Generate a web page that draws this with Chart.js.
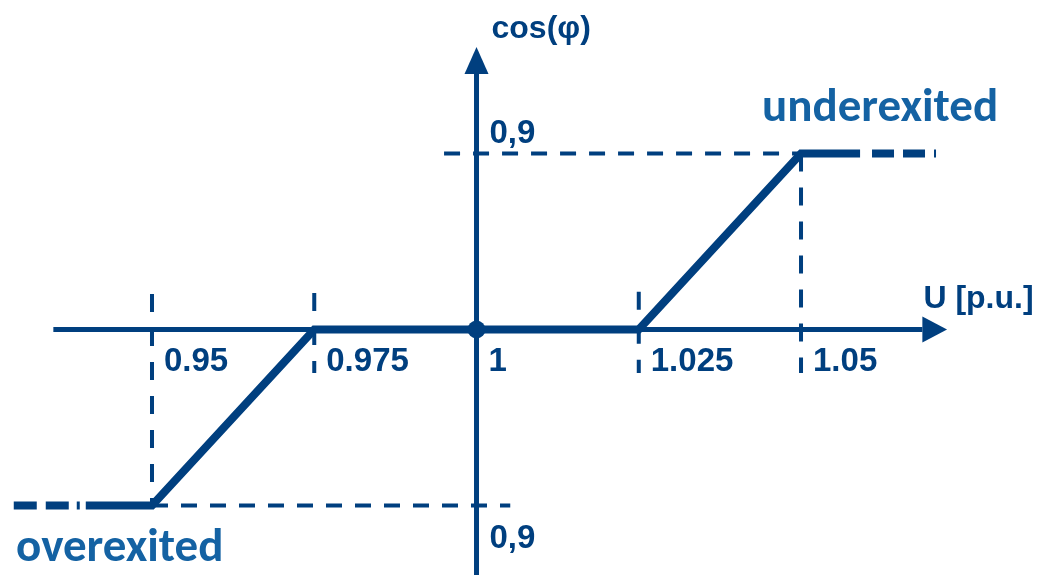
<!DOCTYPE html>
<html lang="en">
<head>
    <meta charset="UTF-8" />
    <title>cos(φ)(U) characteristic</title>
    <script src="https://cdn.jsdelivr.net/npm/chart.js"></script>
    <style>
        body { margin: 0; background: #fff; }
        .wrap { width: 1037px; height: 575px; position: relative; }
    </style>
</head>
<body>
    <div class="wrap"><canvas id="myChart"></canvas></div>

    <script>
        // characteristic cos(phi) = f(U); y is the signed distance from cos(phi)=1
        // (+ underexited, - overexited)
        const curveU   = [0.9398, 0.95, 0.975, 1.025, 1.05, 1.0591];
        const curveCos = [-0.1, -0.1, 0, 0, 0.1, 0.1];
        const leftExtU   = [0.9287, 0.9398];
        const leftExtCos = [-0.1, -0.1];
        const rightExtU   = [1.0708, 1.0591];
        const rightExtCos = [0.1, 0.1];

        // tick positions and labels
        const uTicks  = [0.95, 0.975, 1, 1.025, 1.05];
        const uLabels = ["0.95", "0.975", "1", "1.025", "1.05"];
        const cosTicks  = [0.1, -0.1];
        const cosLabels = ["0,9", "0,9"];

        // axis extents
        const uAxis   = [0.9348, 1.0687, 1.0725];   // start, arrow base, arrow tip
        const cosAxis = [-0.14, 0.1452, 0.1605];

        const blue = "#003f7f";
        const textBlue = "#1462a3";

        function seg(xs, ys) {
            return xs.map((x, i) => ({ x: x, y: ys[i] }));
        }

        const guideH = { borderColor: blue, borderWidth: 4, borderDash: [16, 13], pointRadius: 0, showLine: true };
        const guideV = { borderColor: blue, borderWidth: 4, borderDash: [18, 16], pointRadius: 0, showLine: true };

        const datasets = [
            {
                data: seg(curveU, curveCos),
                borderColor: blue, borderWidth: 8, borderJoinStyle: "miter",
                pointRadius: 0, showLine: true, order: 0,
            },
            {
                data: seg(leftExtU, leftExtCos),
                borderColor: blue, borderWidth: 8, borderDash: [23, 9, 23, 8, 3, 6],
                pointRadius: 0, showLine: true, order: 0,
            },
            {
                data: seg(rightExtU, rightExtCos),
                borderColor: blue, borderWidth: 8, borderDash: [2, 9, 22, 9, 22, 12],
                pointRadius: 0, showLine: true, order: 0,
            },
            {
                data: [{ x: 1, y: 0 }],
                pointRadius: 9, pointBackgroundColor: blue, pointBorderWidth: 0, order: 0,
            },
            // axes
            { data: seg([uAxis[0], uAxis[1]], [0, 0]), borderColor: blue, borderWidth: 5, pointRadius: 0, showLine: true, order: 2 },
            { data: seg([1, 1], [cosAxis[0], cosAxis[1]]), borderColor: blue, borderWidth: 5, pointRadius: 0, showLine: true, order: 2 },
            // dashed guides
            Object.assign({ data: seg([0.95, 1.0052], [-0.1, -0.1]), order: 3 }, guideH),
            Object.assign({ data: seg([0.995, 1.05], [0.1, 0.1]), order: 3 }, guideH),
            Object.assign({ data: seg([0.95, 0.95], [0.0202, -0.102]), order: 3 }, guideV),
            Object.assign({ data: seg([0.975, 0.975], [0.0208, -0.0247]), order: 3 }, guideV),
            Object.assign({ data: seg([1.025, 1.025], [0.0215, -0.0247]), order: 3 }, guideV),
            Object.assign({ data: seg([1.05, 1.05], [0.1, -0.0247]), order: 3 }, guideV),
        ];

        const labelsPlugin = {
            id: "labels",
            afterDatasetsDraw(chart) {
                const ctx = chart.ctx;
                const xs = chart.scales.x;
                const ys = chart.scales.y;
                const x0 = xs.getPixelForValue(1);
                const y0 = ys.getPixelForValue(0);

                ctx.save();
                ctx.fillStyle = blue;
                // arrow heads
                const ax = xs.getPixelForValue(uAxis[1]);
                const axTip = xs.getPixelForValue(uAxis[2]);
                ctx.beginPath();
                ctx.moveTo(ax, y0 - 13);
                ctx.lineTo(axTip, y0);
                ctx.lineTo(ax, y0 + 13);
                ctx.closePath();
                ctx.fill();

                const ay = ys.getPixelForValue(cosAxis[1]);
                const ayTip = ys.getPixelForValue(cosAxis[2]);
                ctx.beginPath();
                ctx.moveTo(x0 - 12, ay);
                ctx.lineTo(x0, ayTip);
                ctx.lineTo(x0 + 12, ay);
                ctx.closePath();
                ctx.fill();

                // tick labels
                ctx.font = 'bold 33px "Liberation Sans", Arial, sans-serif';
                ctx.textBaseline = "alphabetic";
                ctx.textAlign = "left";
                uTicks.forEach((u, i) => {
                    ctx.fillText(uLabels[i], xs.getPixelForValue(u) + 12, y0 + 41);
                });
                cosTicks.forEach((c, i) => {
                    const py = ys.getPixelForValue(c);
                    ctx.fillText(cosLabels[i], x0 + 13, c > 0 ? py - 11 : py + 43);
                });

                // axis titles
                ctx.font = 'bold 32px "Liberation Sans", Arial, sans-serif';
                ctx.fillText("cos(φ)", x0 + 15, ayTip - 9);
                ctx.fillText("U [p.u.]", ax + 1, y0 - 22);

                // regions
                ctx.fillStyle = textBlue;
                ctx.font = 'bold 47px Carlito, Lato, "Open Sans", sans-serif';
                ctx.fillText("underexited", xs.getPixelForValue(1.05) - 39, ys.getPixelForValue(0.1) - 33);
                ctx.fillText("overexited", xs.getPixelForValue(0.95) - 136, ys.getPixelForValue(-0.1) + 56);
                ctx.restore();
            },
        };

        const ctx = document.getElementById("myChart").getContext("2d");
        new Chart(ctx, {
            type: "scatter",
            data: { datasets: datasets },
            options: {
                responsive: true,
                maintainAspectRatio: false,
                animation: false,
                layout: { padding: 0, autoPadding: false },
                plugins: {
                    legend: { display: false },
                    tooltip: { enabled: false },
                },
                scales: {
                    x: { type: "linear", min: 0.92658, max: 1.08636, display: false },
                    y: { type: "linear", min: -0.13949, max: 0.18722, display: false },
                },
            },
            plugins: [labelsPlugin],
        });
    </script>
</body>
</html>
